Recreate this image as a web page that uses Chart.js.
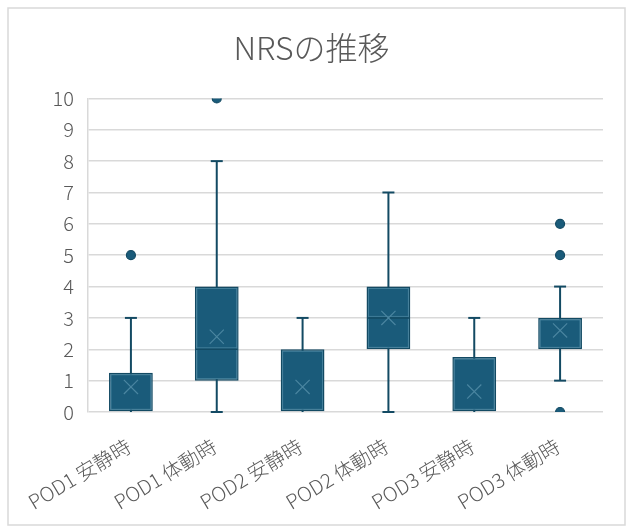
<!DOCTYPE html>
<html>
<head>
<meta charset="utf-8">
<script src="https://cdn.jsdelivr.net/npm/chart.js@4"></script>
<style>
  html, body { margin: 0; padding: 0; background: #ffffff; }
  #wrap { width: 629px; height: 526px; position: relative; }
</style>
</head>
<body>
<div id="wrap"><canvas id="c" width="629" height="526"></canvas></div>
<script>
// NRS scores by day and condition (box plot summary)
const categories = ['POD1 安静時', 'POD1 体動時', 'POD2 安静時', 'POD2 体動時', 'POD3 安静時', 'POD3 体動時'];
const whiskerLow  = [0, 0, 0, 0, 0, 1];
const q1          = [0, 1, 0, 2, 0, 2];
const median      = [0, 2, 0, 3, 0, 3];
const q3          = [1.25, 4, 2, 4, 1.75, 3];
const whiskerHigh = [3, 8, 3, 7, 3, 4];
const means       = [0.8, 2.4, 0.8, 3.0, 0.65, 2.6];
const outliers    = [[5], [10], [], [], [], [0, 5, 6]];
const yTicks      = [0, 1, 2, 3, 4, 5, 6, 7, 8, 9, 10];

const FONT = '"Noto Sans CJK JP", "Noto Sans", sans-serif';
const BOX_FILL = '#1a5b7a';
const BOX_EDGE = '#134a63';
const BOX_LIGHT = '#4a85a0';
const TEXT = '#595959';
const GRID = '#d9d9d9';

const outlierPoints = [];
outliers.forEach((vals, i) => vals.forEach(v => outlierPoints.push({ x: categories[i], y: v })));
const meanPoints = means.map((m, i) => ({ x: categories[i], y: m }));
const boxRanges = categories.map((c, i) => [q1[i], q3[i]]);

// Outer frame and white background
const framePlugin = {
  id: 'frame',
  beforeDraw(chart) {
    const ctx = chart.ctx;
    ctx.save();
    ctx.fillStyle = '#ffffff';
    ctx.fillRect(0, 0, chart.width, chart.height);
    ctx.strokeStyle = GRID;
    ctx.lineWidth = 1.5;
    ctx.strokeRect(8, 8, chart.width - 12, chart.height - 9);
    ctx.restore();
  }
};

// Whiskers under the boxes, medians and inner highlight on top of the boxes
const boxPlotPlugin = {
  id: 'boxplot',
  beforeDatasetsDraw(chart) {
    const ctx = chart.ctx;
    const xs = chart.scales.x, ys = chart.scales.y;
    ctx.save();
    ctx.strokeStyle = BOX_EDGE;
    ctx.lineWidth = 2;
    categories.forEach((c, i) => {
      const x = xs.getPixelForValue(i);
      const yl = ys.getPixelForValue(whiskerLow[i]);
      const yh = ys.getPixelForValue(whiskerHigh[i]);
      ctx.beginPath();
      ctx.moveTo(x, yl); ctx.lineTo(x, yh);
      ctx.stroke();
      const caps = [yh];
      if (whiskerLow[i] < q1[i]) caps.push(yl);
      caps.forEach(y => {
        ctx.beginPath();
        ctx.moveTo(x - 6, y); ctx.lineTo(x + 6, y);
        ctx.stroke();
      });
    });
    ctx.restore();
  },
  afterDatasetDraw(chart, args) {
    if (args.meta.type !== 'bar') return;
    const ctx = chart.ctx;
    const ys = chart.scales.y;
    ctx.save();
    args.meta.data.forEach((bar, i) => {
      const p = bar.getProps(['x', 'y', 'base', 'width'], true);
      const left = p.x - p.width / 2, right = p.x + p.width / 2;
      const top = Math.min(p.y, p.base), bottom = Math.max(p.y, p.base);
      ctx.strokeStyle = BOX_LIGHT;
      ctx.lineWidth = 0.8;
      ctx.strokeRect(left + 2, top + 2, right - left - 4, bottom - top - 4);
      const ym = ys.getPixelForValue(median[i]);
      if (ym > top + 1 && ym < bottom - 1) {
        ctx.strokeStyle = BOX_EDGE;
        ctx.lineWidth = 1.5;
        ctx.beginPath();
        ctx.moveTo(left + 1, ym); ctx.lineTo(right - 1, ym);
        ctx.stroke();
        ctx.strokeStyle = BOX_LIGHT;
        ctx.lineWidth = 0.8;
        ctx.beginPath();
        ctx.moveTo(left + 2, ym - 1.5); ctx.lineTo(right - 2, ym - 1.5);
        ctx.stroke();
      }
    });
    ctx.restore();
  }
};

new Chart(document.getElementById('c'), {
  type: 'bar',
  data: {
    labels: categories,
    datasets: [
      {
        type: 'line',
        label: '平均',
        data: meanPoints,
        showLine: false,
        pointStyle: 'crossRot',
        pointRadius: 10,
        pointBorderWidth: 1.2,
        pointBorderColor: BOX_LIGHT,
        pointBackgroundColor: 'rgba(0,0,0,0)'
      },
      {
        type: 'line',
        label: '外れ値',
        data: outlierPoints,
        showLine: false,
        pointStyle: 'circle',
        pointRadius: 4.5,
        pointBorderWidth: 1.2,
        pointBorderColor: BOX_EDGE,
        pointBackgroundColor: BOX_FILL
      },
      {
        type: 'bar',
        label: '四分位範囲',
        data: boxRanges,
        backgroundColor: BOX_FILL,
        borderColor: BOX_EDGE,
        borderWidth: 1.5,
        borderSkipped: false,
        categoryPercentage: 1,
        barPercentage: 0.51
      }
    ]
  },
  plugins: [framePlugin, boxPlotPlugin],
  options: {
    responsive: false,
    animation: false,
    layout: { padding: { left: 20, right: 26, top: 0, bottom: 14 } },
    plugins: {
      legend: { display: false },
      tooltip: { enabled: false },
      title: {
        display: true,
        text: 'NRSの推移',
        color: TEXT,
        font: { family: FONT, size: 32, weight: 300 },
        padding: { top: 29, bottom: 31 }
      }
    },
    scales: {
      x: {
        type: 'category',
        offset: true,
        grid: { display: false, drawTicks: false },
        border: { display: false },
        ticks: {
          color: TEXT,
          font: { family: FONT, size: 20, weight: 300 },
          maxRotation: 31,
          minRotation: 31,
          padding: 22,
          labelOffset: -2
        },
        afterFit(scale) { scale.height = 100; }
      },
      y: {
        min: 0,
        max: 10,
        afterBuildTicks(scale) { scale.ticks = yTicks.map(v => ({ value: v })); },
        grid: { color: GRID, lineWidth: 1.5, drawTicks: false },
        border: { display: true, color: GRID, width: 1.5 },
        ticks: {
          color: TEXT,
          font: { family: FONT, size: 20, weight: 300 },
          padding: 14
        },
        afterFit(scale) { scale.width = 68; }
      }
    }
  }
});
</script>
</body>
</html>
